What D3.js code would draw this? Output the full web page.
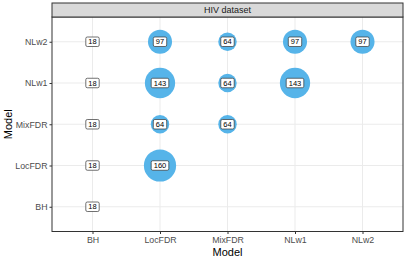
<!DOCTYPE html>
<html>
<head>
<meta charset="utf-8">
<script src="https://cdn.jsdelivr.net/npm/d3@7"></script>
<style>
  body { margin: 0; background: #fff; }
  text { font-family: "Liberation Sans", Arial, sans-serif; }
</style>
</head>
<body>
<div id="chart"></div>
<script>
const models = ["BH", "LocFDR", "MixFDR", "NLw1", "NLw2"];
const rowModel = ["NLw2", "NLw2", "NLw2", "NLw2", "NLw2",
                  "NLw1", "NLw1", "NLw1", "NLw1",
                  "MixFDR", "MixFDR", "MixFDR",
                  "LocFDR", "LocFDR",
                  "BH"];
const colModel = ["BH", "LocFDR", "MixFDR", "NLw1", "NLw2",
                  "BH", "LocFDR", "MixFDR", "NLw1",
                  "BH", "LocFDR", "MixFDR",
                  "BH", "LocFDR",
                  "BH"];
const counts = [18, 97, 64, 97, 97,
                18, 143, 64, 143,
                18, 64, 64,
                18, 160,
                18];
const stripTitle = "HIV dataset";

const cells = counts.map((v, i) => ({ x: colModel[i], y: rowModel[i], v }));

const width = 407, height = 260;
const margin = { top: 17, right: 4, bottom: 28.5, left: 52 };
const innerWidth = width - margin.left - margin.right;
const innerHeight = height - margin.top - margin.bottom;

const svg = d3.select("#chart").append("svg")
  .attr("width", width).attr("height", height);

const g = svg.append("g").attr("transform", `translate(${margin.left},${margin.top})`);

// discrete scales with ggplot-style 0.6 expansion
const xScale = d3.scalePoint().domain(models)
  .range([innerWidth * 0.6 / 5.2, innerWidth * 4.6 / 5.2]);
const yScale = d3.scalePoint().domain(models)
  .range([innerHeight * 4.6 / 5.2, innerHeight * 0.6 / 5.2]);
// area proportional to value
const areaScale = d3.scaleLinear().domain(d3.extent(counts)).range([1, 260]);

// grid
g.selectAll(".gx").data(models).join("line")
  .attr("x1", d => xScale(d)).attr("x2", d => xScale(d))
  .attr("y1", 0).attr("y2", innerHeight)
  .attr("stroke", "#ebebeb").attr("stroke-width", 1);
g.selectAll(".gy").data(models).join("line")
  .attr("y1", d => yScale(d)).attr("y2", d => yScale(d))
  .attr("x1", 0).attr("x2", innerWidth)
  .attr("stroke", "#ebebeb").attr("stroke-width", 1);

// bubbles
g.selectAll(".bubble").data(cells).join("circle")
  .attr("cx", d => xScale(d.x))
  .attr("cy", d => yScale(d.y))
  .attr("r", d => Math.sqrt(areaScale(d.v)))
  .attr("fill", "#56b4e9");

// labels
const lab = g.selectAll(".lab").data(cells).join("g")
  .attr("transform", d => `translate(${xScale(d.x)},${yScale(d.y)})`);
lab.append("rect")
  .attr("x", d => -(String(d.v).length * 2.1 + 2.5))
  .attr("width", d => String(d.v).length * 4.2 + 5)
  .attr("y", -4.75).attr("height", 9.5)
  .attr("rx", 1.5)
  .attr("fill", "#fff").attr("stroke", "#333").attr("stroke-width", 0.7);
lab.append("text")
  .attr("text-anchor", "middle").attr("dy", "0.35em")
  .attr("font-size", 7.5).attr("fill", "#000")
  .text(d => d.v);

// panel border
g.append("rect").attr("width", innerWidth).attr("height", innerHeight)
  .attr("fill", "none").attr("stroke", "#333").attr("stroke-width", 1);

// strip
svg.append("rect")
  .attr("x", margin.left).attr("y", 3)
  .attr("width", innerWidth).attr("height", margin.top - 3)
  .attr("fill", "#d9d9d9").attr("stroke", "#333").attr("stroke-width", 1);
svg.append("text")
  .attr("x", margin.left + innerWidth / 2).attr("y", 10)
  .attr("dy", "0.35em").attr("text-anchor", "middle")
  .attr("font-size", 9).attr("fill", "#1a1a1a")
  .text(stripTitle);

// axes
const xAxis = g.append("g").attr("transform", `translate(0,${innerHeight})`)
  .call(d3.axisBottom(xScale).tickSize(2.5).tickPadding(2.5));
const yAxis = g.append("g")
  .call(d3.axisLeft(yScale).tickSize(2.5).tickPadding(2));
[xAxis, yAxis].forEach(a => {
  a.select(".domain").remove();
  a.selectAll(".tick line").attr("stroke", "#333");
  a.selectAll(".tick text").attr("fill", "#4d4d4d").attr("font-size", 8.8)
    .attr("font-family", "Liberation Sans, Arial, sans-serif");
});

svg.append("text")
  .attr("x", margin.left + innerWidth / 2).attr("y", height - 4)
  .attr("text-anchor", "middle").attr("font-size", 11).attr("fill", "#000")
  .text("Model");
svg.append("text")
  .attr("transform", `translate(8,${margin.top + innerHeight / 2}) rotate(-90)`)
  .attr("text-anchor", "middle").attr("dy", "0.35em")
  .attr("font-size", 11).attr("fill", "#000")
  .text("Model");
</script>
</body>
</html>
